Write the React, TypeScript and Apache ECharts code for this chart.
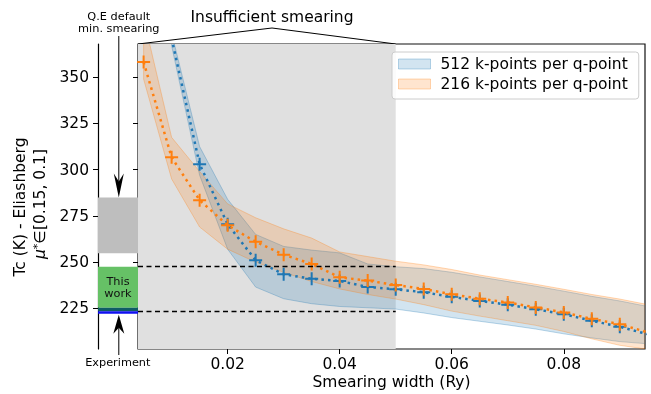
import React, { useEffect, useRef } from "react";
import * as echarts from "echarts";

// ---------- data ----------
const X_MIN = 0.004;
const X_MAX = 0.0945;
const Y_MIN = 203;
const Y_MAX = 368;
const INSUFFICIENT_END = 0.05;

const X_TICKS = [0.02, 0.04, 0.06, 0.08];
const Y_TICKS = [225, 250, 275, 300, 325, 350];

// 216 k-points per q-point (orange)
const xs216 = [0.005, 0.01, 0.015, 0.02, 0.025, 0.03, 0.035, 0.04, 0.045, 0.05, 0.055, 0.06, 0.065, 0.07, 0.075, 0.08, 0.085, 0.09, 0.095];
const mean216 = [358.2, 306.7, 283.5, 269.9, 261.0, 254.0, 249.0, 241.8, 240.0, 237.6, 235.5, 232.6, 230.2, 228.2, 225.5, 222.8, 219.3, 216.4, 212.0];
const lower216 = [349.0, 295.0, 269.0, 257.0, 250.0, 244.5, 239.5, 235.5, 232.5, 230.0, 227.0, 223.5, 220.8, 218.3, 215.8, 212.5, 208.5, 205.0, 202.8];
const upper216 = [382.0, 317.5, 299.0, 281.5, 274.0, 268.0, 263.0, 255.5, 253.0, 250.5, 248.5, 246.0, 243.0, 240.5, 238.0, 235.3, 232.5, 230.0, 227.0];

// 512 k-points per q-point (blue)
const xs512 = [0.01, 0.015, 0.02, 0.025, 0.03, 0.035, 0.04, 0.045, 0.05, 0.055, 0.06, 0.065, 0.07, 0.075, 0.08, 0.085, 0.09, 0.095];
const mean512 = [371.0, 303.0, 270.5, 251.0, 243.4, 241.0, 239.8, 236.6, 235.3, 233.7, 231.2, 229.0, 227.0, 224.5, 221.8, 218.3, 215.0, 211.0];
const lower512 = [367.0, 297.0, 257.0, 236.5, 230.2, 227.5, 226.0, 225.3, 224.6, 222.5, 220.0, 218.0, 216.0, 213.8, 211.2, 209.0, 207.0, 205.8];
const upper512 = [374.0, 312.5, 284.0, 265.0, 258.5, 256.5, 255.0, 249.0, 247.5, 246.5, 244.5, 242.0, 239.5, 237.0, 234.3, 231.5, 229.0, 226.0];

// left panel ranges
const QE_RANGE = [254.8, 284.9];
const THIS_WORK = [225.3, 247.5];
const OVERLAP = [223.4, 225.3];
const EXPERIMENT = [222.1, 223.4];
const DASHED_LEVELS = [247.5, 223.4];

const NAME512 = "512 k-points per q-point";
const NAME216 = "216 k-points per q-point";
const X_NAME = "Smearing width (Ry)";

const FONT = "DejaVu Sans";
const FS = 15.5;
const FS_SMALL = 11.3;
const BLUE = "#1f77b4";
const ORANGE = "#ff7f0e";

const PLUS = "path://M-1,-6.5L1,-6.5L1,-1L6.5,-1L6.5,1L1,1L1,6.5L-1,6.5L-1,1L-6.5,1L-6.5,-1L-1,-1Z";

const pairs = (xs: number[], ys: number[]) => xs.map((x, i) => [x, ys[i]]);

export default function App() {
  const ref = useRef<HTMLDivElement>(null);

  useEffect(() => {
    if (!ref.current) return;
    const chart = echarts.init(ref.current, undefined, { renderer: "svg" });

    const band = (name: string, xs: number[], lo: number[], hi: number[], rgb: string) => ({
      type: "custom",
      name,
      xAxisIndex: 0,
      yAxisIndex: 0,
      z: 2,
      silent: true,
      data: [[xs[1], lo[1]]],
      encode: { x: 0, y: 1 },
      renderItem: (params: any, api: any) => {
        const top = xs.map((x, i) => api.coord([x, hi[i]]));
        const bot = xs.map((x, i) => api.coord([x, lo[i]])).reverse();
        const cs = params.coordSys;
        return {
          type: "group",
          clipPath: { type: "rect", shape: { x: cs.x, y: cs.y, width: cs.width, height: cs.height } },
          children: [
            {
              type: "polygon",
              shape: { points: [...top, ...bot] },
              style: { fill: `rgba(${rgb},0.2)`, stroke: `rgba(${rgb},0.3)`, lineWidth: 1 },
            },
          ],
        };
      },
    });

    const meanLine = (xs: number[], ys: number[], color: string, z: number) => ({
      type: "line",
      xAxisIndex: 0,
      yAxisIndex: 0,
      data: pairs(xs, ys),
      symbol: PLUS,
      symbolSize: 13,
      showAllSymbol: true,
      silent: true,
      z,
      itemStyle: { color },
      lineStyle: { color, width: 2.5, type: [2.5, 4.1] },
    });

    const option: any = {
      animation: false,
      grid: [
        {
          left: 138, right: 6, top: 44, bottom: 45, show: true, borderColor: "#111", borderWidth: 1.2,
          backgroundColor: "transparent", containLabel: false, outerBoundsMode: "none",
        },
        { left: 98, width: 40, top: 44, bottom: 45, show: false, containLabel: false, outerBoundsMode: "none" },
      ],
      xAxis: [
        {
          type: "value",
          gridIndex: 0,
          min: X_MIN,
          max: X_MAX,
          axisLine: { show: false },
          splitLine: { show: false },
          axisTick: { show: true, inside: false, length: 5, lineStyle: { color: "#000", width: 1 }, customValues: X_TICKS },
          axisLabel: {
            show: true,
            margin: 7,
            fontSize: FS,
            lineHeight: 16,
            color: "#000",
            fontFamily: FONT,
            customValues: X_TICKS,
            formatter: (v: number) => v.toFixed(2),
          },
        },
        { type: "value", gridIndex: 1, min: 0, max: 1, show: false },
      ],
      yAxis: [
        {
          type: "value",
          gridIndex: 0,
          min: Y_MIN,
          max: Y_MAX,
          axisLine: { show: false },
          splitLine: { show: false },
          axisTick: { show: true, inside: false, length: 5, lineStyle: { color: "#000", width: 1 }, customValues: Y_TICKS },
          axisLabel: { show: false },
        },
        {
          type: "value",
          gridIndex: 1,
          min: Y_MIN,
          max: Y_MAX,
          position: "left",
          axisLine: { show: true, onZero: false, lineStyle: { color: "#000", width: 1.2 } },
          splitLine: { show: false },
          axisTick: { show: true, inside: false, length: 5, lineStyle: { color: "#000", width: 1 }, customValues: Y_TICKS },
          axisLabel: { show: true, margin: 9, fontSize: FS, color: "#000", fontFamily: FONT, customValues: Y_TICKS },
        },
      ],
      legend: {
        orient: "vertical",
        left: 392,
        top: 52,
        selectedMode: false,
        itemWidth: 32,
        itemHeight: 10,
        itemGap: 2,
        padding: [3, 11, 6, 6],
        backgroundColor: "rgba(255,255,255,0.85)",
        borderColor: "#cccccc",
        borderWidth: 1,
        borderRadius: 3,
        textStyle: { fontSize: FS, color: "#000", fontFamily: FONT, lineHeight: 18, padding: [0, 0, 0, 5] },
        data: [
          { name: NAME512, icon: "rect", itemStyle: { color: "rgba(31,119,180,0.2)", borderColor: "rgba(31,119,180,0.3)", borderWidth: 1 } },
          { name: NAME216, icon: "rect", itemStyle: { color: "rgba(255,127,14,0.2)", borderColor: "rgba(255,127,14,0.3)", borderWidth: 1 } },
        ],
      },
      series: [
        // insufficient smearing region
        {
          type: "line",
          xAxisIndex: 0,
          yAxisIndex: 0,
          data: [[X_MIN, Y_MIN], [INSUFFICIENT_END, Y_MIN]],
          symbol: "none",
          silent: true,
          lineStyle: { opacity: 0 },
          z: 1,
          markArea: {
            silent: true,
            z: 1,
            itemStyle: { color: "#e0e0e0" },
            data: [[{ xAxis: X_MIN }, { xAxis: INSUFFICIENT_END }]],
          },
          markLine: {
            silent: true,
            symbol: "none",
            z: 6,
            label: { show: false },
            lineStyle: { color: "#000", width: 1.3, type: [5, 3.5] },
            data: DASHED_LEVELS.map((v) => [{ coord: [X_MIN, v] }, { coord: [INSUFFICIENT_END, v] }]),
          },
        },
        band(NAME512, xs512, lower512, upper512, "31,119,180"),
        band(NAME216, xs216, lower216, upper216, "255,127,14"),
        meanLine(xs512, mean512, BLUE, 4),
        meanLine(xs216, mean216, ORANGE, 5),
        // left panel
        {
          type: "line",
          xAxisIndex: 1,
          yAxisIndex: 1,
          data: [[0, Y_MIN]],
          symbol: "none",
          silent: true,
          lineStyle: { opacity: 0 },
          markArea: {
            silent: true,
            data: [
              [{ yAxis: QE_RANGE[0], itemStyle: { color: "#bebebe" } }, { yAxis: QE_RANGE[1] }],
              [
                {
                  yAxis: THIS_WORK[0],
                  itemStyle: { color: "#66c166" },
                  label: {
                    show: true,
                    position: "inside",
                    formatter: "This\nwork",
                    fontSize: FS_SMALL,
                    lineHeight: 12,
                    color: "#111",
                    fontFamily: FONT,
                  },
                },
                { yAxis: THIS_WORK[1] },
              ],
              [{ yAxis: OVERLAP[0], itemStyle: { color: "#0f5c66" } }, { yAxis: OVERLAP[1] }],
              [{ yAxis: EXPERIMENT[0], itemStyle: { color: "#1010f0" } }, { yAxis: EXPERIMENT[1] }],
            ],
          },
        },
      ],
    };

    chart.setOption(option);

    const px = (g: number, x: number, y: number) => chart.convertToPixel({ gridIndex: g } as any, [x, y]) as number[];
    const ax = px(1, 0.52, Y_MIN)[0];
    const downTip = px(1, 0.5, QE_RANGE[1])[1];
    const upTip = px(1, 0.5, EXPERIMENT[0])[1] + 1;
    const leftTop = px(0, X_MIN, Y_MAX);
    const endTop = px(0, INSUFFICIENT_END, Y_MAX);
    const rightBottom = px(0, X_MAX, Y_MIN);
    const apexX = 272;
    const apexY = 28;

    chart.setOption({
      graphic: [
        { type: "line", silent: true, shape: { x1: ax, y1: 36, x2: ax, y2: downTip - 16 }, style: { stroke: "#000", lineWidth: 1 } },
        {
          type: "polygon",
          silent: true,
          shape: { points: [[ax, downTip], [ax - 5, downTip - 24], [ax, downTip - 16], [ax + 5, downTip - 24]] },
          style: { fill: "#000" },
        },
        { type: "line", silent: true, shape: { x1: ax, y1: upTip + 13, x2: ax, y2: 355 }, style: { stroke: "#000", lineWidth: 1 } },
        {
          type: "polygon",
          silent: true,
          shape: { points: [[ax, upTip], [ax - 5.5, upTip + 19], [ax, upTip + 13], [ax + 5.5, upTip + 19]] },
          style: { fill: "#000" },
        },
        {
          type: "text",
          silent: true,
          x: ax,
          y: 22.5,
          style: { text: "Q.E default\nmin. smearing", fontSize: FS_SMALL, lineHeight: 12, fontFamily: FONT, fill: "#000", align: "center", verticalAlign: "middle" },
        },
        {
          type: "text",
          silent: true,
          x: ax - 1,
          y: 362,
          style: { text: "Experiment", fontSize: FS_SMALL, fontFamily: FONT, fill: "#000", align: "center", verticalAlign: "middle" },
        },
        {
          type: "polyline",
          silent: true,
          shape: { points: [[leftTop[0], leftTop[1]], [apexX, apexY], [endTop[0], endTop[1]]] },
          style: { stroke: "#000", lineWidth: 1, fill: "none" },
        },
        {
          type: "text",
          silent: true,
          x: apexX,
          y: 16.5,
          style: { text: "Insufficient smearing", fontSize: FS, fontFamily: FONT, fill: "#000", align: "center", verticalAlign: "middle" },
        },
        {
          type: "text",
          silent: true,
          x: (leftTop[0] + rightBottom[0]) / 2,
          y: 382,
          style: { text: X_NAME, fontSize: FS, lineHeight: 16, fontFamily: FONT, fill: "#000", align: "center", verticalAlign: "middle" },
        },
        {
          type: "text",
          silent: true,
          x: 20,
          y: 207,
          rotation: Math.PI / 2,
          style: { text: "Tc (K) - Eliashberg", fontSize: FS, fontFamily: FONT, fill: "#000", align: "center", verticalAlign: "middle" },
        },
        {
          type: "text",
          silent: true,
          x: 40,
          y: 204,
          rotation: Math.PI / 2,
          style: {
            text: "{m|μ}{s|*}∈[0.15, 0.1]",
            fontSize: FS,
            fontFamily: FONT,
            fill: "#000",
            align: "center",
            verticalAlign: "middle",
            rich: {
              m: { fontSize: FS, fontStyle: "italic", fontFamily: FONT, fill: "#000" },
              s: { fontSize: 11, fontFamily: FONT, fill: "#000", padding: [0, 0, 6, 0] },
            },
          },
        },
      ],
    });

    return () => chart.dispose();
  }, []);

  return <div ref={ref} style={{ position: "fixed", left: 0, top: 0, width: 651, height: 394 }} />;
}
